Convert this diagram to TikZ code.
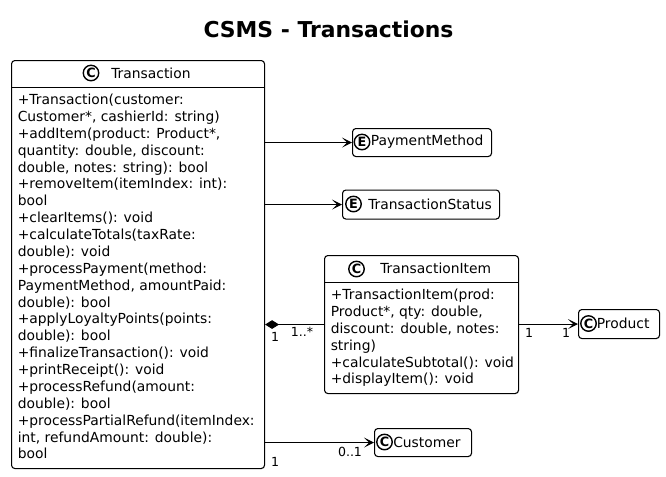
\documentclass[tikz,border=0pt]{standalone}
\usepackage{fontspec}
\setmainfont{DejaVu Sans}
\usetikzlibrary{arrows.meta,calc}
\newcommand\memfont{\fontsize{10.4pt}{12pt}\selectfont}
\newcommand\lblfont{\fontsize{9.4pt}{11pt}\selectfont}
\newcommand\ttlfont{\fontsize{16.4pt}{19pt}\selectfont\bfseries}
\tikzset{
  classbox/.style={draw, line width=0.8pt, rounded corners=2.5pt, inner sep=0pt, anchor=north west, fill=white},
  spot/.style={circle, draw, line width=1.05pt, minimum size=11.6pt, inner sep=0pt, font=\fontsize{9.6pt}{10pt}\selectfont\bfseries},
  hdr/.style={anchor=west, inner sep=0pt, font=\memfont},
  mem/.style={anchor=base west, inner sep=0pt, font=\memfont},
  lbl/.style={inner sep=0pt, font=\lblfont},
  link/.style={line width=0.8pt, -{Stealth[length=7.5pt, width=7.5pt, inset=3.8pt]}},
  comp/.style={line width=0.8pt, {Diamond[length=10.5pt, width=6.5pt]}-},
  divider/.style={line width=0.75pt}
}
\begin{document}
\begin{tikzpicture}[x=0.75pt, y=-0.75pt]
\useasboundingbox (0,0) rectangle (666,476);
% title
\node[anchor=base, inner sep=0pt, font=\ttlfont] (title) at (328.5,37) {CSMS - Transactions};

% Transaction
\node[classbox, minimum width=253*0.75pt, minimum height=408*0.75pt] (T) at (11,60) {};
\draw[divider] ($(T.north west)+(0,27)$) -- ($(T.north east)+(0,27)$);
\node[spot] (Tc) at (91,73) {C};
\node[hdr] (Tn) at (111,73.5) {Transaction};
\foreach \t [count=\i] in {
  {+Transaction(customer:},
  {Customer*, cashierId: string)},
  {+addItem(product: Product*,},
  {quantity: double, discount:},
  {double, notes: string): bool},
  {+removeItem(itemIndex: int):},
  {bool},
  {+clearItems(): void},
  {+calculateTotals(taxRate:},
  {double): void},
  {+processPayment(method:},
  {PaymentMethod, amountPaid:},
  {double): bool},
  {+applyLoyaltyPoints(points:},
  {double): bool},
  {+finalizeTransaction(): void},
  {+printReceipt(): void},
  {+processRefund(amount:},
  {double): bool},
  {+processPartialRefund(itemIndex:},
  {int, refundAmount: double):},
  {bool}}
  \node[mem] (Tm\i) at (17.5,{104.6+16.875*(\i-1)}) {\t};

% PaymentMethod
\node[classbox, minimum width=139*0.75pt, minimum height=28*0.75pt] (PM) at (352,128) {};
\node[spot] (PMc) at (362,142) {E};
\node[hdr] (PMn) at (370.5,142) {PaymentMethod};

% TransactionStatus
\node[classbox, minimum width=157*0.75pt, minimum height=29*0.75pt] (TS) at (342,189.5) {};
\node[spot] (TSc) at (353.5,204) {E};
\node[hdr] (TSn) at (368,204) {TransactionStatus};

% TransactionItem
\node[classbox, minimum width=194*0.75pt, minimum height=138*0.75pt] (TI) at (324,255) {};
\draw[divider] ($(TI.north west)+(0,27)$) -- ($(TI.north east)+(0,27)$);
\node[spot] (TIc) at (356.5,269) {C};
\node[hdr] (TIn) at (380,268.5) {TransactionItem};
\foreach \t [count=\i] in {
  {+TransactionItem(prod:},
  {Product*, qty: double,},
  {discount: double, notes:},
  {string)},
  {+calculateSubtotal(): void},
  {+displayItem(): void}}
  \node[mem] (TIm\i) at (330.5,{299.6+16.875*(\i-1)}) {\t};

% Product
\node[classbox, minimum width=81*0.75pt, minimum height=29*0.75pt] (P) at (578,309) {};
\node[spot] (Pc) at (588.5,323.5) {C};
\node[hdr] (Pn) at (596.5,323.5) {Product};

% Customer
\node[classbox, minimum width=97*0.75pt, minimum height=28*0.75pt] (C) at (374,428) {};
\node[spot] (Cc) at (384.5,442) {C};
\node[hdr] (Cn) at (393,442) {Customer};

% connectors
\draw[link] (T.east |- PM.west) -- (PM.west);
\draw[link] (T.east |- TS.west) -- (TS.west);
\coordinate (compStart) at (T.east |- TI.west);
\draw[comp] (compStart) -- (TI.west);
\draw[link] (TI.east |- P.west) -- (P.west);
\coordinate (custStart) at (T.east |- C.west);
\draw[link] (custStart) -- (C.west);

% multiplicities
\node[lbl] (l1) at (275,337) {1};
\node[lbl] (l2) at (302,332) {1..*};
\node[lbl] (l3) at (529,333) {1};
\node[lbl] (l4) at (566,333) {1};
\node[lbl] (l5) at (350,452) {0..1};
\node[lbl] (l6) at (275,462) {1};
\end{tikzpicture}
\end{document}
